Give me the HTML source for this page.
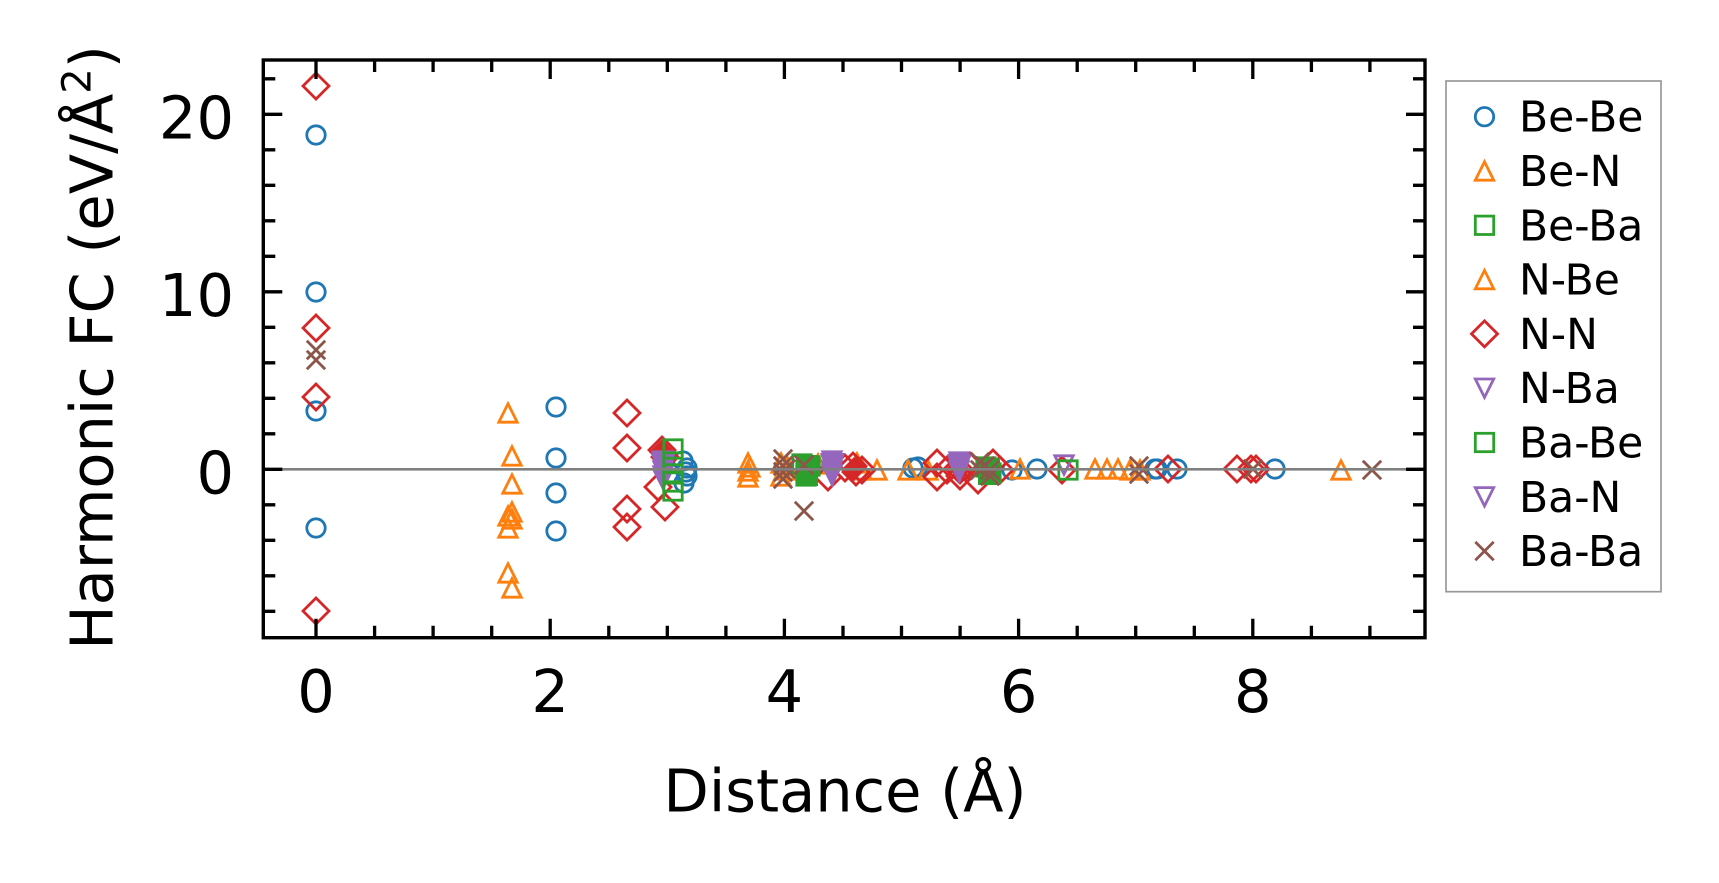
<!DOCTYPE html>
<html><head><meta charset="utf-8"><style>html,body{margin:0;padding:0;background:#fff}svg{display:block}</style></head>
<body>
<svg xmlns="http://www.w3.org/2000/svg" width="1719" height="883" viewBox="0 0 1719 883" font-family="'DejaVu Sans','Liberation Sans',sans-serif">
<rect width="1719" height="883" fill="#fff"/>
<defs>
<circle id="o" r="9.2" fill="none" stroke="#1f77b4" stroke-width="2.8"/>
<path id="t" d="M0,-9.2L9.2,9.2L-9.2,9.2Z" fill="none" stroke="#ff7f0e" stroke-width="2.8"/>
<rect id="s" x="-9.2" y="-9.2" width="18.4" height="18.4" fill="none" stroke="#2ca02c" stroke-width="2.8"/>
<path id="d" d="M0,-13L13,0L0,13L-13,0Z" fill="none" stroke="#d62728" stroke-width="2.8"/>
<path id="v" d="M0,9.2L9.2,-9.2L-9.2,-9.2Z" fill="none" stroke="#9467bd" stroke-width="2.8"/>
<path id="x" d="M-9.2,-9.2L9.2,9.2M-9.2,9.2L9.2,-9.2" fill="none" stroke="#8c564b" stroke-width="2.8"/>
</defs>

<!-- Be-Be -->
<use href="#o" x="316" y="135"/><use href="#o" x="316" y="292"/><use href="#o" x="316" y="411"/><use href="#o" x="316" y="528"/>
<use href="#o" x="556" y="407"/><use href="#o" x="556" y="458"/><use href="#o" x="556" y="493"/><use href="#o" x="556" y="531"/>
<use href="#o" x="683" y="461"/><use href="#o" x="687" y="468"/><use href="#o" x="687" y="476"/><use href="#o" x="684" y="483"/><use href="#o" x="686" y="472"/>
<use href="#o" x="913" y="468"/><use href="#o" x="918" y="467"/><use href="#o" x="1012" y="470"/><use href="#o" x="1037" y="469"/>
<use href="#o" x="1155" y="469"/><use href="#o" x="1157" y="469"/><use href="#o" x="1177" y="469"/><use href="#o" x="1275" y="469"/>

<!-- Be-N / N-Be -->
<use href="#t" x="508" y="413"/><use href="#t" x="508" y="516"/><use href="#t" x="508" y="528"/><use href="#t" x="508" y="573"/>
<use href="#t" x="512" y="456"/><use href="#t" x="512" y="484"/><use href="#t" x="512" y="512"/><use href="#t" x="512" y="519"/><use href="#t" x="512" y="588"/>
<use href="#t" x="748" y="463"/><use href="#t" x="748" y="471"/><use href="#t" x="748" y="477"/><use href="#t" x="750" y="467"/>
<use href="#t" x="781" y="463"/><use href="#t" x="785" y="470"/><use href="#t" x="781" y="476"/><use href="#t" x="787" y="466"/>
<use href="#t" x="818" y="464"/><use href="#t" x="857" y="463"/><use href="#t" x="862" y="470"/>
<use href="#t" x="877" y="470"/><use href="#t" x="908" y="470"/><use href="#t" x="928" y="470"/>
<use href="#t" x="1020" y="469"/><use href="#t" x="1095" y="469"/><use href="#t" x="1107" y="469"/><use href="#t" x="1118" y="469"/><use href="#t" x="1130" y="470"/><use href="#t" x="1140" y="470"/>
<use href="#t" x="1341" y="470"/>

<!-- N-N -->
<use href="#d" x="316" y="86"/><use href="#d" x="316" y="328"/><use href="#d" x="316" y="397"/><use href="#d" x="316" y="611"/>
<use href="#d" x="627" y="413"/><use href="#d" x="627" y="448"/><use href="#d" x="627" y="509"/><use href="#d" x="627" y="527"/>
<path d="M662,439L675,452L662,465L649,452Z" fill="#d62728"/>
<use href="#d" x="662" y="450"/><use href="#d" x="665" y="457"/><use href="#d" x="658" y="487"/><use href="#d" x="665" y="507"/>
<path d="M810,460L818,470L810,480L802,470Z" fill="#d62728"/>
<path d="M854,457L866,469L854,481L842,469Z" fill="#d62728"/>
<use href="#d" x="810" y="470"/><use href="#d" x="828" y="477"/><use href="#d" x="845" y="468"/><use href="#d" x="853" y="466"/><use href="#d" x="856" y="472"/><use href="#d" x="862" y="470"/>
<path d="M960,458L970,470L960,482L950,470Z" fill="#d62728"/>
<use href="#d" x="937" y="463"/><use href="#d" x="937" y="477"/><use href="#d" x="947" y="470"/><use href="#d" x="960" y="470"/><use href="#d" x="960" y="476"/><use href="#d" x="970" y="466"/><use href="#d" x="978" y="480"/><use href="#d" x="993" y="463"/><use href="#d" x="1000" y="470"/>
<use href="#d" x="1062" y="470"/><use href="#d" x="1168" y="469"/>
<use href="#d" x="1237" y="469"/><use href="#d" x="1251" y="469"/><use href="#d" x="1256" y="469"/>

<!-- N-Ba / Ba-N -->
<path d="M651,451L676,451L663.5,490Z" fill="#9467bd"/>
<use href="#v" x="663" y="461"/><use href="#v" x="663" y="466"/><use href="#v" x="663" y="471"/><use href="#v" x="663" y="476"/><use href="#v" x="663" y="479"/>
<path d="M820,453L845,453L832.5,488Z" fill="#9467bd"/>
<use href="#v" x="832" y="461"/><use href="#v" x="832" y="466"/><use href="#v" x="832" y="471"/><use href="#v" x="832" y="475"/>
<path d="M947,454L972,454L959.5,484Z" fill="#9467bd"/>
<use href="#v" x="959" y="462"/><use href="#v" x="959" y="467"/><use href="#v" x="959" y="471"/>
<use href="#v" x="1064" y="465"/>

<!-- Be-Ba / Ba-Be -->
<use href="#s" x="673" y="449"/><use href="#s" x="673" y="462"/><use href="#s" x="673" y="474"/><use href="#s" x="673" y="482"/><use href="#s" x="673" y="491"/>
<rect x="796" y="455" width="22" height="31" fill="#2ca02c"/>
<use href="#s" x="802" y="464"/><use href="#s" x="806" y="470"/><use href="#s" x="810" y="466"/><use href="#s" x="806" y="476"/>
<rect x="978" y="458" width="22" height="27" fill="#2ca02c"/>
<use href="#s" x="986" y="467"/><use href="#s" x="991" y="473"/>
<use href="#s" x="1068" y="470"/>

<!-- Ba-Ba -->
<use href="#x" x="316" y="350"/><use href="#x" x="316" y="360"/>
<use href="#x" x="783" y="459"/><use href="#x" x="783" y="466"/><use href="#x" x="783" y="472"/><use href="#x" x="783" y="479"/><use href="#x" x="786" y="469"/>
<use href="#x" x="804" y="511"/><use href="#x" x="804" y="465"/>
<use href="#x" x="980" y="462"/><use href="#x" x="980" y="470"/><use href="#x" x="990" y="470"/><use href="#x" x="990" y="476"/><use href="#x" x="985" y="466"/>
<use href="#x" x="1139" y="466"/><use href="#x" x="1139" y="474"/>
<use href="#x" x="1253" y="469"/><use href="#x" x="1372" y="470"/>

<!-- zero line -->
<line x1="263" y1="469.3" x2="1425" y2="469.3" stroke="#808080" stroke-width="2.7"/>

<!-- ticks -->
<g stroke="#000" stroke-width="3.3" fill="none">
<path d="M316,637.7V618.7M550.2,637.7V618.7M784.4,637.7V618.7M1018.6,637.7V618.7M1252.8,637.7V618.7
M316,60V79M550.2,60V79M784.4,60V79M1018.6,60V79M1252.8,60V79"/>
<path d="M374.6,637.7V625.7M433.1,637.7V625.7M491.7,637.7V625.7M608.8,637.7V625.7M667.3,637.7V625.7M725.9,637.7V625.7M843,637.7V625.7M901.5,637.7V625.7M960.1,637.7V625.7M1077.2,637.7V625.7M1135.7,637.7V625.7M1194.3,637.7V625.7M1311.4,637.7V625.7M1369.9,637.7V625.7
M374.6,60V72M433.1,60V72M491.7,60V72M608.8,60V72M667.3,60V72M725.9,60V72M843,60V72M901.5,60V72M960.1,60V72M1077.2,60V72M1135.7,60V72M1194.3,60V72M1311.4,60V72M1369.9,60V72"/>
<path d="M263.3,469.3H282.3M263.3,291.8H282.3M263.3,114.3H282.3M1425,469.3H1406M1425,291.8H1406M1425,114.3H1406"/>
<path d="M263.3,611.3H275.3M263.3,575.8H275.3M263.3,540.3H275.3M263.3,504.8H275.3M263.3,433.8H275.3M263.3,398.3H275.3M263.3,362.8H275.3M263.3,327.3H275.3M263.3,256.3H275.3M263.3,220.8H275.3M263.3,185.3H275.3M263.3,149.8H275.3M263.3,78.8H275.3
M1425,611.3H1413M1425,575.8H1413M1425,540.3H1413M1425,504.8H1413M1425,433.8H1413M1425,398.3H1413M1425,362.8H1413M1425,327.3H1413M1425,256.3H1413M1425,220.8H1413M1425,185.3H1413M1425,149.8H1413M1425,78.8H1413"/>
</g>

<!-- spines -->
<rect x="263.3" y="60" width="1161.7" height="577.7" fill="none" stroke="#000" stroke-width="3.4"/>

<!-- tick labels -->
<g font-size="59" fill="#000" text-anchor="middle">
<text x="316" y="712">0</text>
<text x="550.2" y="712">2</text>
<text x="784.4" y="712">4</text>
<text x="1018.6" y="712">6</text>
<text x="1252.8" y="712">8</text>
</g>
<g font-size="59" fill="#000" text-anchor="end">
<text x="234" y="493.3">0</text>
<text x="234" y="315.8">10</text>
<text x="234" y="138.3">20</text>
</g>

<!-- axis labels -->
<text x="845" y="811.7" font-size="59" text-anchor="middle" fill="#000">Distance (Å)</text>
<text transform="translate(112.7,347.5) rotate(-90)" font-size="59" text-anchor="middle" fill="#000">Harmonic FC (eV/Å<tspan dy="-22" font-size="40">2</tspan><tspan dy="22">)</tspan></text>

<!-- legend -->
<rect x="1446" y="81" width="215" height="510.7" fill="#fff" stroke="#999" stroke-width="1.7"/>
<use href="#o" x="1484.5" y="116.7"/>
<use href="#t" x="1484.5" y="171"/>
<use href="#s" x="1484.5" y="225.3"/>
<use href="#t" x="1484.5" y="279.6"/>
<use href="#d" x="1484.5" y="333.9"/>
<use href="#v" x="1484.5" y="388.2"/>
<use href="#s" x="1484.5" y="442.5"/>
<use href="#v" x="1484.5" y="496.8"/>
<use href="#x" x="1484.5" y="551.1"/>
<g font-size="42.5" fill="#000">
<text x="1519" y="131.7">Be-Be</text>
<text x="1519" y="186">Be-N</text>
<text x="1519" y="240.3">Be-Ba</text>
<text x="1519" y="294.6">N-Be</text>
<text x="1519" y="348.9">N-N</text>
<text x="1519" y="403.2">N-Ba</text>
<text x="1519" y="457.5">Ba-Be</text>
<text x="1519" y="511.8">Ba-N</text>
<text x="1519" y="566.1">Ba-Ba</text>
</g>
</svg>
</body></html>
